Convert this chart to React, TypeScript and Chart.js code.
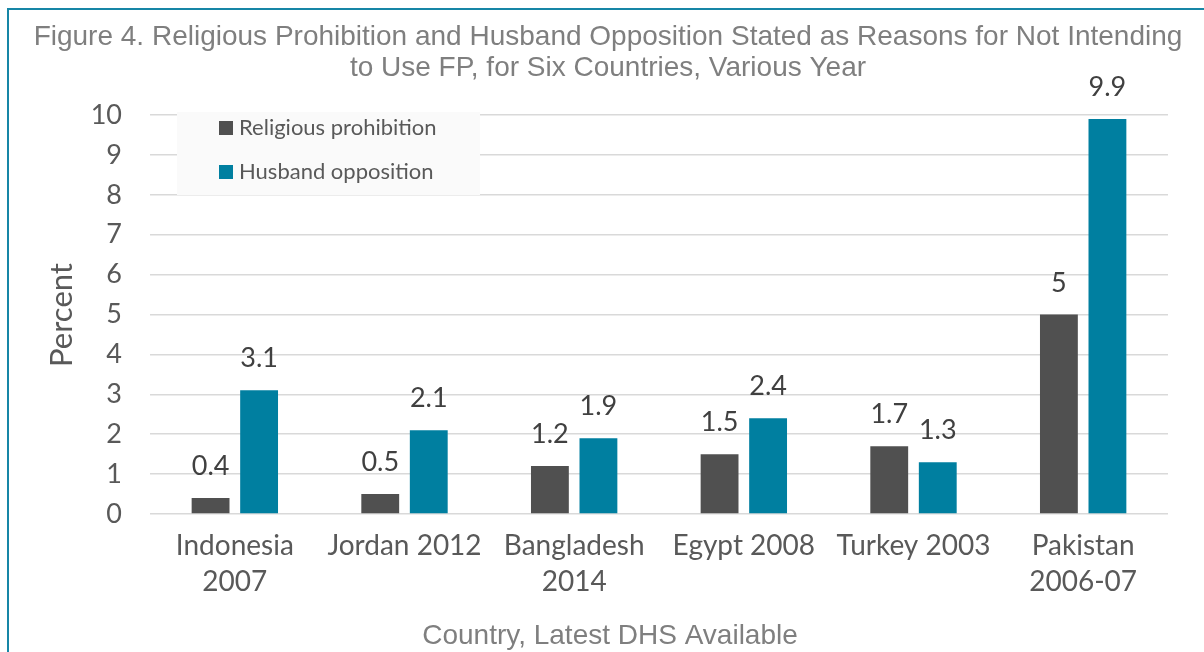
import React, { useEffect, useRef } from "react";
import { Chart, registerables } from "chart.js";

Chart.register(...registerables);

const categories: string[][] = [
  ["Indonesia", "2007"],
  ["Jordan 2012"],
  ["Bangladesh", "2014"],
  ["Egypt 2008"],
  ["Turkey 2003"],
  ["Pakistan", "2006-07"],
];
const religiousProhibition = [0.4, 0.5, 1.2, 1.5, 1.7, 5];
const husbandOpposition = [3.1, 2.1, 1.9, 2.4, 1.3, 9.9];
const yTicks = [0, 1, 2, 3, 4, 5, 6, 7, 8, 9, 10];
const titleLines = [
  "Figure 4. Religious Prohibition and Husband Opposition Stated as Reasons for Not Intending",
  "to Use FP, for Six Countries, Various Year",
];
const xTitle = "Country, Latest DHS Available";
const yTitle = "Percent";
const seriesNames = ["Religious prohibition", "Husband opposition"];

const GRAY = "#505050";
const TEAL = "#007fa0";
const TEXT = "#595959";
const CAL = "Lato, 'Open Sans', sans-serif";
const ARIAL = "'Liberation Sans', Arial, sans-serif";

const decorPlugin = {
  id: "decor",
  beforeDraw(chart: any) {
    const ctx = chart.ctx;
    ctx.save();
    ctx.fillStyle = "#ffffff";
    ctx.fillRect(0, 0, chart.width, chart.height);
    ctx.restore();
  },
  beforeDatasetsDraw(chart: any) {
    const ctx = chart.ctx;
    ctx.save();
    // legend box
    ctx.fillStyle = "#fafafa";
    ctx.fillRect(177, 112, 303, 83);
    const items = [
      { name: seriesNames[0], color: GRAY, y: 128 },
      { name: seriesNames[1], color: TEAL, y: 172 },
    ];
    ctx.font = `22px ${CAL}`;
    ctx.textBaseline = "middle";
    ctx.textAlign = "left";
    for (const it of items) {
      ctx.fillStyle = it.color;
      ctx.fillRect(219, it.y - 7, 14, 14);
      ctx.fillStyle = TEXT;
      ctx.fillText(it.name, 239, it.y);
    }
    ctx.restore();
  },
  afterDraw(chart: any) {
    const ctx = chart.ctx;
    ctx.save();
    // border
    ctx.strokeStyle = "#1786a6";
    ctx.lineWidth = 2;
    ctx.beginPath();
    ctx.moveTo(8, 660);
    ctx.lineTo(8, 9);
    ctx.lineTo(1204, 9);
    ctx.stroke();
    // title
    ctx.fillStyle = "#7f7f7f";
    ctx.font = `28px ${ARIAL}`;
    ctx.textAlign = "center";
    ctx.textBaseline = "middle";
    ctx.fillText(titleLines[0], 608, 37);
    ctx.fillText(titleLines[1], 608, 68);
    // x title
    ctx.fillText(xTitle, 610, 636);
    // y title
    ctx.save();
    ctx.translate(62, 315);
    ctx.rotate(-Math.PI / 2);
    ctx.fillStyle = TEXT;
    ctx.font = `31px ${CAL}`;
    ctx.fillText(yTitle, 0, 0);
    ctx.restore();
    // data labels
    ctx.fillStyle = "#404040";
    ctx.font = `27px ${CAL}`;
    ctx.textAlign = "center";
    ctx.textBaseline = "alphabetic";
    chart.data.datasets.forEach((ds: any, i: number) => {
      const meta = chart.getDatasetMeta(i);
      meta.data.forEach((bar: any, j: number) => {
        ctx.fillText(String(ds.data[j]), bar.x, bar.y - 23);
      });
    });
    ctx.restore();
  },
};

export default function App() {
  const ref = useRef<HTMLCanvasElement>(null);
  useEffect(() => {
    document.body.style.margin = "0";
    const chart = new Chart(ref.current!, {
      type: "bar",
      data: {
        labels: categories,
        datasets: [
          {
            label: seriesNames[0],
            data: religiousProhibition,
            backgroundColor: GRAY,
            barPercentage: 0.78,
            categoryPercentage: 0.572,
          },
          {
            label: seriesNames[1],
            data: husbandOpposition,
            backgroundColor: TEAL,
            barPercentage: 0.78,
            categoryPercentage: 0.572,
          },
        ],
      },
      options: {
        animation: false,
        responsive: false,
        maintainAspectRatio: false,
        layout: { padding: { left: 0, top: 115, right: 36, bottom: 38 } },
        plugins: {
          legend: { display: false },
          title: { display: false },
          tooltip: { enabled: false },
        },
        scales: {
          x: {
            grid: { display: false, drawTicks: false },
            border: { display: false },
            ticks: {
              color: TEXT,
              font: { family: CAL, size: 28, lineHeight: 1.32 },
              padding: 13,
              maxRotation: 0,
              autoSkip: false,
            },
            afterFit: (s: any) => {
              s.height = 100;
            },
          },
          y: {
            min: 0,
            max: 10,
            afterBuildTicks: (s: any) => {
              s.ticks = yTicks.map((v) => ({ value: v }));
            },
            grid: { color: "#d9d9d9", lineWidth: 1.5, drawTicks: false },
            border: { display: false },
            ticks: {
              color: TEXT,
              font: { family: CAL, size: 27 },
              padding: 28,
            },
            afterFit: (s: any) => {
              s.width = 150;
            },
          },
        },
      },
      plugins: [decorPlugin],
    });
    return () => chart.destroy();
  }, []);
  return (
    <div style={{ width: 1204, height: 652 }}>
      <canvas ref={ref} width={1204} height={652} style={{ display: "block" }} />
    </div>
  );
}
